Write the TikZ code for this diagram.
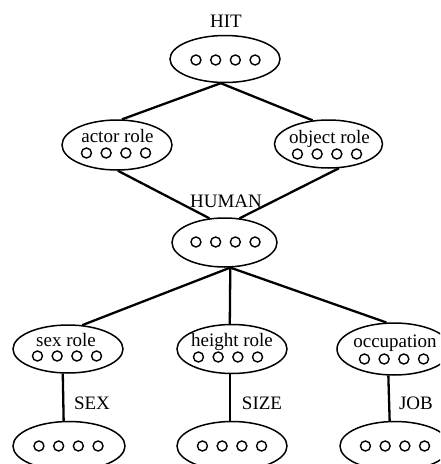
\documentclass[tikz,border=0pt]{standalone}
\usepackage{fontspec}
\setmainfont{Liberation Serif}
\usetikzlibrary{shapes.geometric}
\tikzset{
  unit/.style={ellipse, draw, line width=1.5pt, inner sep=0pt},
  dot/.style={circle, draw, line width=1.4pt, inner sep=0pt, minimum size=10pt},
  lbl/.style={font=\fontsize{19}{20}\selectfont, inner sep=0pt, anchor=base},
  link/.style={line width=2.3pt},
}
\newcommand\fourdots[3]{%
  \foreach \k/\n in {-1.5/1,-0.5/2,0.5/3,1.5/4}{\node[dot] (#1d\n) at ({#2+\k*19.7},#3) {};}}
\begin{document}
\begin{tikzpicture}[x=1pt,y=-1pt]
\useasboundingbox (0,0) rectangle (440,464);
\begin{scope}
\clip (0,0) rectangle (440,464);
% ellipses
\node[unit, minimum width=110pt, minimum height=47pt] (hit) at (225,59) {};
\node[unit, minimum width=110pt, minimum height=50pt] (actor) at (117,145) {};
\node[unit, minimum width=108pt, minimum height=48pt] (object) at (328.5,144) {};
\node[unit, minimum width=105pt, minimum height=49pt] (human) at (224.5,242.5) {};
\node[unit, minimum width=110pt, minimum height=48pt] (sexrole) at (68,349) {};
\node[unit, minimum width=110pt, minimum height=49pt] (heightrole) at (232,349) {};
\node[unit, minimum width=114pt, minimum height=52pt] (occrole) at (394,349) {};
\node[unit, minimum width=112pt, minimum height=49pt] (sexbot) at (69,446) {};
\node[unit, minimum width=110pt, minimum height=49pt] (sizebot) at (232,446) {};
\node[unit, minimum width=110pt, minimum height=49pt] (jobbot) at (395,446) {};
% labels
\node[lbl] (hitlbl) at (226,27) {HIT};
\node[lbl] (actorlbl) at (117.5,142) {actor role};
\node[lbl] (objectlbl) at (329.5,143) {object role};
\node[lbl] (humanlbl) at (226,207) {HUMAN};
\node[lbl] (sexlbl) at (66,346) {sex role};
\node[lbl] (heightlbl) at (232,346) {height role};
\node[lbl] (occlbl) at (395,347) {occupation};
\node[lbl] (sexname) at (92,409) {SEX};
\node[lbl] (sizename) at (262,409) {SIZE};
\node[lbl] (jobname) at (416,409) {JOB};
% dots
\fourdots{hit}{225.5}{60}
\fourdots{actor}{116}{153}
\fourdots{object}{327}{154}
\fourdots{human}{225.5}{242}
\fourdots{sexrole}{67}{356}
\fourdots{heightrole}{228}{357}
\fourdots{occrole}{394}{359}
\fourdots{sexbot}{68.5}{446}
\fourdots{sizebot}{232}{446}
\fourdots{jobbot}{395}{446}
% connectors
\draw[link] (hit.-100) -- (actor.79);
\draw[link] (hit.-100) -- (object.124);
\draw[link] (actor.-88) -- (human.122);
\draw[link] (object.-67) -- (human.58);
\draw[link] (human.-77) -- (sexrole.59);
\draw[link] (human.-77) -- (heightrole.95);
\draw[link] (human.-77) -- (occrole.106);
\draw[link] (sexrole.-102) -- (sexbot.102);
\draw[link] (heightrole.-95) -- (sizebot.95);
\draw[link] (occrole.-102) -- (jobbot.102);
\end{scope}
\end{tikzpicture}
\end{document}
